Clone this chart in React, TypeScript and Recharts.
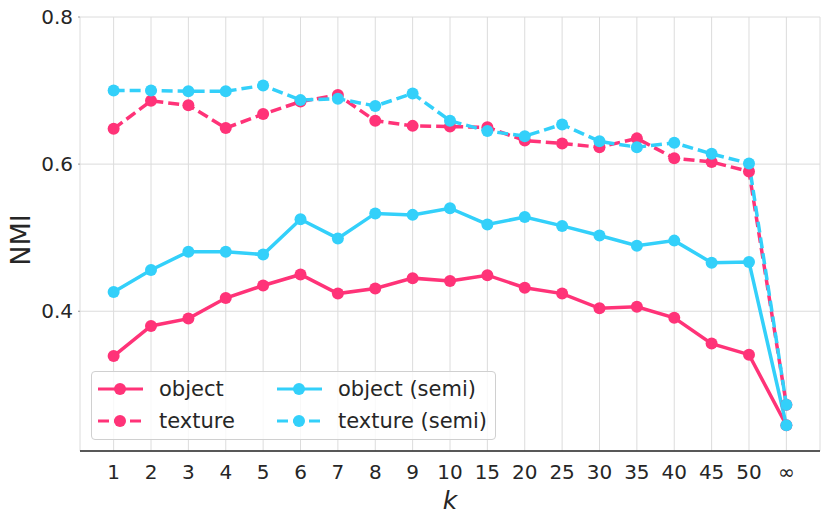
import { LineChart, Line, XAxis, YAxis, CartesianGrid } from "recharts";

const kLabels = ["1", "2", "3", "4", "5", "6", "7", "8", "9", "10", "15", "20", "25", "30", "35", "40", "45", "50", "∞"];

const objectNmi = [0.339, 0.38, 0.39, 0.418, 0.435, 0.45, 0.424, 0.431, 0.445, 0.441, 0.449, 0.432, 0.424, 0.404, 0.406, 0.391, 0.356, 0.341, 0.245];
const textureNmi = [0.648, 0.686, 0.68, 0.649, 0.668, 0.685, 0.694, 0.659, 0.652, 0.651, 0.65, 0.632, 0.628, 0.623, 0.635, 0.608, 0.603, 0.59, 0.273];
const objectSemiNmi = [0.426, 0.456, 0.481, 0.481, 0.477, 0.525, 0.499, 0.533, 0.531, 0.54, 0.518, 0.528, 0.516, 0.503, 0.489, 0.496, 0.466, 0.467, 0.245];
const textureSemiNmi = [0.7, 0.7, 0.699, 0.699, 0.707, 0.687, 0.689, 0.679, 0.696, 0.659, 0.645, 0.638, 0.654, 0.631, 0.623, 0.629, 0.614, 0.601, 0.273];

const yTicks = [0.4, 0.6, 0.8];

const PINK = "#ff3378";
const CYAN = "#33d0fa";
const TEXT = "#262626";
const FONT = "DejaVu Sans, sans-serif";
const DASH = "11 5";

const data = kLabels.map((k, i) => ({
  idx: i,
  k,
  object: objectNmi[i],
  texture: textureNmi[i],
  objectSemi: objectSemiNmi[i],
  textureSemi: textureSemiNmi[i],
}));

const series = [
  { key: "object", name: "object", color: PINK, dashed: false },
  { key: "texture", name: "texture", color: PINK, dashed: true },
  { key: "objectSemi", name: "object (semi)", color: CYAN, dashed: false },
  { key: "textureSemi", name: "texture (semi)", color: CYAN, dashed: true },
];

function YLabel() {
  return (
    <text x={20} y={240} transform="rotate(-90, 20, 240)" textAnchor="middle" dominantBaseline="central" fontSize={27} fill={TEXT} fontFamily={FONT}>
      NMI
    </text>
  );
}

function LegendItem({ s }: any) {
  return (
    <div style={{ display: "flex", alignItems: "center", height: 32 }}>
      <svg width={46} height={14} style={{ marginRight: 15 }}>
        <line x1={0} y1={7} x2={45} y2={7} stroke={s.color} strokeWidth={3} strokeDasharray={s.dashed ? DASH : undefined} />
        <circle cx={22} cy={7} r={6} fill={s.color} />
      </svg>
      <span>{s.name}</span>
    </div>
  );
}

export default function App() {
  return (
    <div style={{ position: "absolute", left: 0, top: 0, width: 830, height: 523, background: "#fff", fontFamily: FONT }}>
      <LineChart width={830} height={523} data={data} margin={{ top: 17, right: 10, bottom: 0, left: 0 }}>
        <CartesianGrid stroke="#dcdcdc" strokeWidth={1} />
        <XAxis
          dataKey="idx"
          type="number"
          domain={[-0.9, 18.9]}
          ticks={kLabels.map((_, i) => i)}
          tickFormatter={(v: number) => kLabels[v]}
          interval={0}
          height={72}
          axisLine={{ stroke: TEXT, strokeWidth: 1.3 }}
          tickLine={false}
          tickSize={0}
          tickMargin={14}
          tick={{ fontSize: 20, fill: TEXT, fontFamily: FONT }}
          label={{ value: "k", position: "insideBottom", offset: 14, fontSize: 25, fontStyle: "italic", fill: TEXT, fontFamily: FONT }}
        />
        <YAxis
          type="number"
          domain={[0.21, 0.8]}
          ticks={yTicks}
          allowDataOverflow
          width={80}
          axisLine={false}
          tickLine={{ stroke: "#999" }}
          tickSize={2}
          tickMargin={5}
          tickFormatter={(v: number) => v.toFixed(1)}
          tick={{ fontSize: 20, fill: TEXT, fontFamily: FONT }}
          label={<YLabel />}
        />
        {series.map((s) => (
          <Line
            key={s.key}
            type="linear"
            dataKey={s.key}
            name={s.name}
            stroke={s.color}
            strokeWidth={3.5}
            strokeDasharray={s.dashed ? DASH : undefined}
            dot={{ r: 6, fill: s.color, stroke: "none", strokeDasharray: "" }}
            activeDot={false}
            isAnimationActive={false}
          />
        ))}
      </LineChart>
      <div
        style={{
          position: "absolute",
          left: 91,
          top: 371,
          width: 405,
          height: 69,
          boxSizing: "border-box",
          border: "1px solid #d0d0d0",
          borderRadius: 4,
          background: "rgba(255,255,255,0.8)",
          display: "grid",
          gridTemplateColumns: "179px 220px",
          gridTemplateRows: "32px 32px",
          gridAutoFlow: "column",
          padding: "1px 0 0 6px",
          fontSize: 21,
          color: TEXT,
        }}
      >
        {series.map((s) => (
          <LegendItem key={s.key} s={s} />
        ))}
      </div>
    </div>
  );
}
